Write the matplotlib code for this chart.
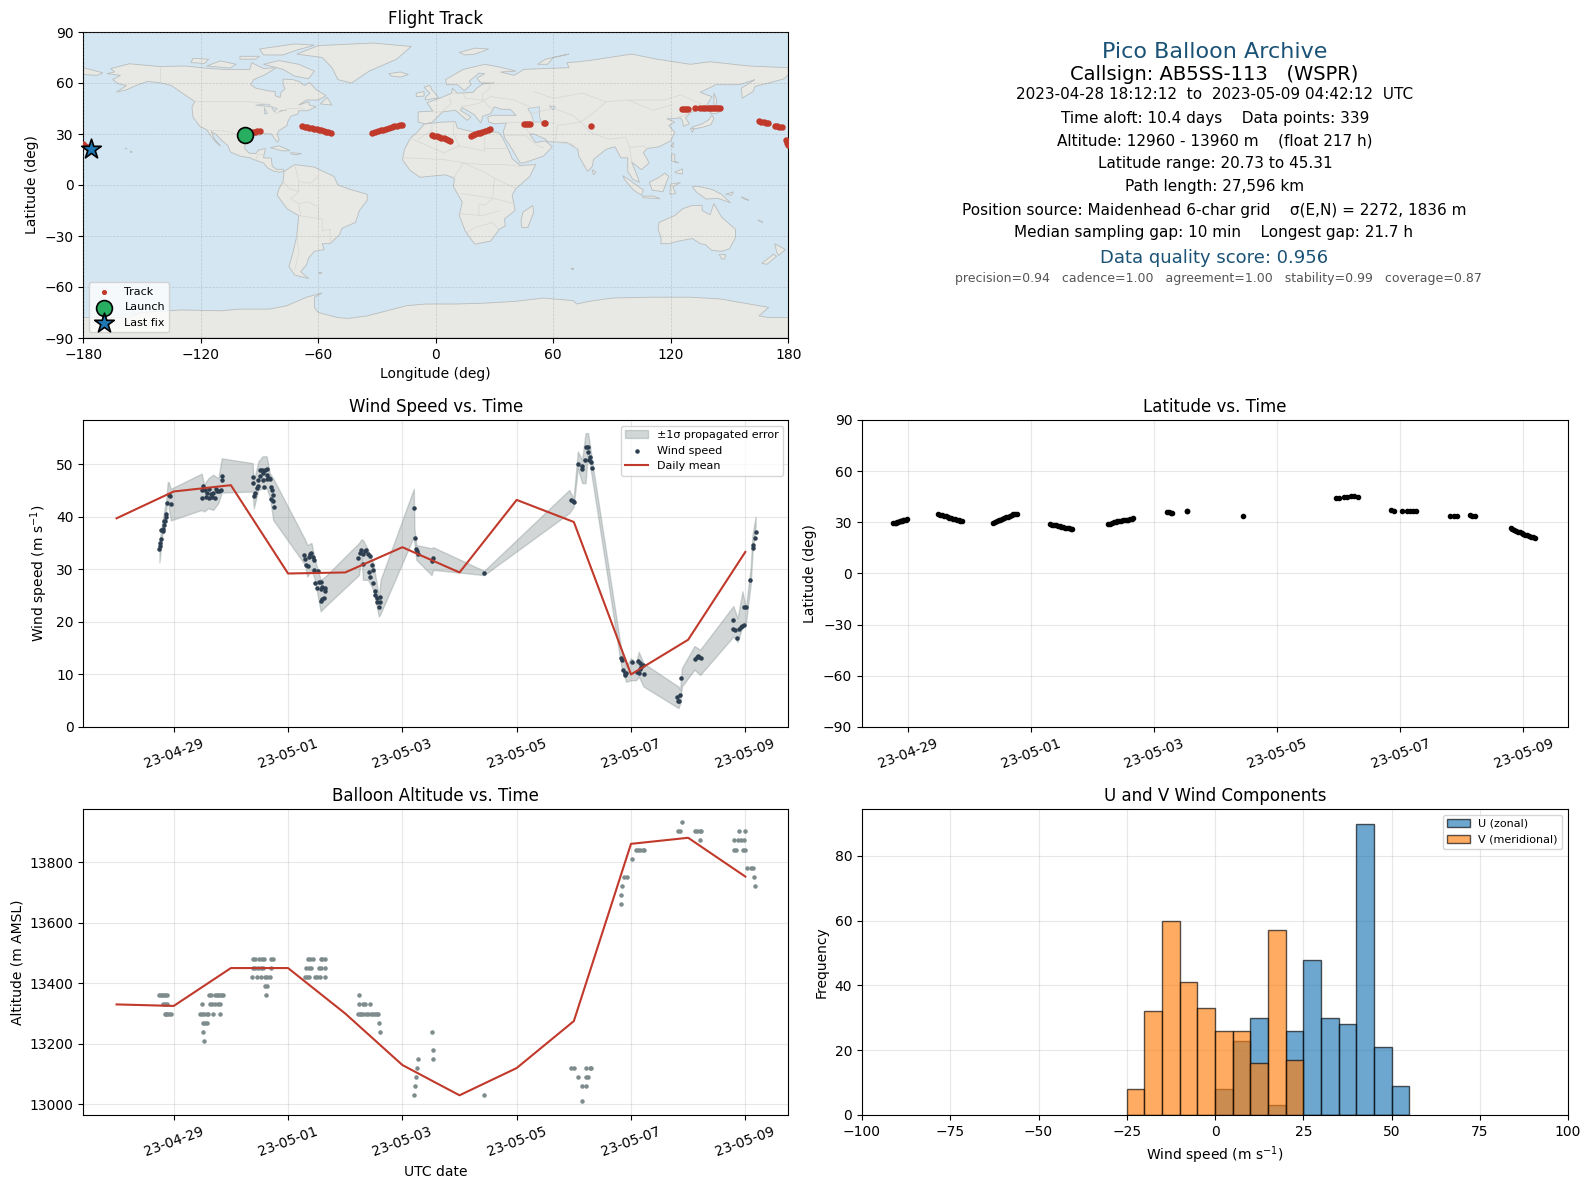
# Pico balloon summary page
from datetime import datetime

import numpy as np
import matplotlib
matplotlib.use('Agg')
import matplotlib.pyplot as plt
import matplotlib.dates as mdates
from matplotlib.patches import Polygon

# ---- map outlines (lon, lat) ----
north_america = [(-168,65.5),(-164,66.5),(-166,68.5),(-156.5,71.3),(-141,69.7),(-128,70),(-115,68.5),(-108,68),(-95,68),(-94,72),(-88,68.5),(-81.5,69),(-87,65),(-93,62),(-94.5,59),(-92,57),(-85,55.3),(-82,55),(-82,52.5),(-79.5,51.5),(-79,54.5),(-77,56.5),(-78,59),(-78,62.3),(-73,62),(-70,61),(-67,58.5),(-64.5,60.3),(-61,56),(-56,52.5),(-60,50),(-66,50),(-70,47),(-65,49),(-64.5,47),(-61,46),(-65.5,43.7),(-70,43.7),(-70.5,41.7),(-74,40.5),(-75.5,37.5),(-76,35),(-80,32),(-81,30),(-80,26.5),(-81,25.2),(-82.8,28),(-84,30),(-89,30.2),(-90,29),(-94,29.5),(-97.3,27.5),(-97.5,24),(-97.5,21.5),(-95.5,18.8),(-92,18.5),(-90.5,20.5),(-87,21.5),(-88,16),(-84,15.8),(-83.5,11),(-81,9),(-78,9.3),(-77.5,8),(-80,7.5),(-83,8.3),(-85.8,10),(-88,13),(-92,14.5),(-95,16),(-100,17),(-105,19.5),(-106,23),(-109,26),(-112.5,30),(-114.7,31.5),(-113,27),(-110,23),(-112,25),(-115,29),(-117,32.5),(-120.5,34.5),(-124,40),(-124.5,46),(-123,49),(-130,54.5),(-135,58.5),(-140,60),(-147,61),(-152,59),(-158,56),(-163,54.7),(-158,58.5),(-162,59.5),(-165,62),(-161,64.5)]
south_america = [(-77.5,8),(-72,12),(-62,10.5),(-52,5),(-50,0),(-44,-2.5),(-35,-5.5),(-35,-9),(-39,-15),(-41,-22),(-48,-25.5),(-49,-29),(-54,-34.5),(-58,-34.5),(-57,-38),(-62,-39),(-65,-43),(-66,-47),(-69,-51),(-65,-55),(-72,-53),(-75,-48),(-73,-40),(-71,-30),(-70,-18),(-76,-14),(-81,-6),(-80,-2),(-78,2)]
africa = [(-6,35.8),(3,37),(10,37.3),(11,33.5),(20,31),(25,31.5),(32,31),(34,28),(37,21),(39,15.5),(43,11.5),(51,12),(48,5),(41,-2),(39,-6),(40.5,-15),(35,-20),(35.5,-24),(32.5,-26),(28,-33),(20,-34.8),(18,-32),(15,-27),(12,-18),(13.5,-10),(9,-1),(9.5,4),(5,6),(-4,5),(-8,4.5),(-13,8.5),(-17,14.7),(-16,21),(-13,27.5),(-9.5,31)]
eurasia = [(-5.5,36),(-9,37),(-9,43),(-1.5,43.5),(-4.5,48.5),(2,51),(8,54),(8.5,57),(11,54),(19,54.5),(21,57),(24,59.5),(30,60),(23,60),(21,63),(25,65.5),(22,65.8),(17,61),(18,59),(14.5,55.5),(11,59),(5.5,59),(5,62),(14,68),(25,71),(32,69.5),(41,67),(33,66.5),(40,64.5),(45,68),(55,68.5),(68,69),(67,72),(73,72.5),(80,73.5),(100,77),(113,74),(130,71),(140,72.5),(160,70),(180,69),(180,65),(178,62.5),(170,60),(163,58),(162,55),(156.5,51),(156,57),(163,62),(155,59),(143,59),(135,54.5),(141,52),(138,46),(130,42.5),(127.5,39.5),(129.5,36),(126.5,34.5),(126,37.5),(125,39.5),(121,39),(118,39),(122,37),(119,35),(122,31),(120,26),(114,22.5),(108,21.5),(106,19),(109,13),(105,9),(100,13.5),(103,5),(104,1.5),(100.5,3.5),(98,8),(98,16),(94.5,16),(91.5,22.5),(87,21),(80.5,15),(80,11),(77.5,8),(73,17),(72.5,21),(67,25),(57,25.5),(56,27),(50,30),(48,30),(51,25),(56,26),(59.5,22.5),(55,17),(45,13),(43,13),(39,21),(35,28),(34.5,31.5),(36,36.5),(30,36),(27,37),(26.5,40),(29,41),(41,41),(38,44.5),(33.5,44.5),(30,46),(28,42),(24,40.5),(23,36.5),(19.5,41.5),(13.5,45.5),(12.5,44),(18,40),(16,38),(10,44),(3.5,43),(0,39),(-2,36.8)]
australia = [(114,-22),(122,-18),(126,-14),(131,-12),(136,-12),(136,-15),(140,-17.5),(142,-11),(146,-19),(153,-26),(153,-31),(150,-37.5),(146,-39),(141,-38.5),(137.5,-35),(135,-34.5),(131,-31.5),(124,-33),(119,-34.5),(115,-34.5),(115,-31),(113.5,-26)]
antarctica = [(-180,-78),(-158,-78),(-150,-75),(-130,-73.5),(-110,-74),(-100,-73),(-85,-73),(-76,-71),(-66,-66),(-58,-63.5),(-62,-66),(-62,-72),(-60,-75),(-50,-78),(-45,-78.5),(-35,-77),(-25,-74),(-15,-71),(-5,-70),(10,-70),(25,-69.5),(40,-68.5),(55,-66.5),(70,-68),(72,-70),(78,-68.5),(90,-66.5),(110,-66),(130,-66),(145,-67),(160,-70),(170,-72),(165,-77),(170,-78),(180,-78),(180,-90),(-180,-90)]
islands = [
    [(-71,77),(-60,82),(-32,83.5),(-12.5,81.5),(-20,74),(-34,67),(-43,60),(-50,62),(-53,69),(-58,75)],
    [(-80,73.2),(-70,71),(-62,67),(-65,62.5),(-72,64),(-78,68),(-88,71)],
    [(-90,80),(-72,83),(-62,82.3),(-72,79),(-78,76.5),(-88,76.5)],
    [(-117,70),(-105,68.8),(-102,71),(-110,73)],
    [(-125,72),(-118,71.5),(-116,74),(-124,74.5)],
    [(-100,74),(-92,74),(-90,75.7),(-100,75.7)],
    [(-59,47.7),(-53,47),(-55.5,51.5)],
    [(-84.5,22),(-80,23),(-74.5,20.2),(-78,20)],
    [(-74,19),(-68.5,18.5),(-71.5,17.8),(-74,18.3)],
    [(-156,20),(-155,19.5),(-155.5,19),(-156,19.5)],
    [(-158.5,21.7),(-157.7,21.4),(-158,21.2)],
    [(-180,69),(-175,67.5),(-170,66),(-173,64.5),(-180,65)],
    [(-5.5,50),(1.5,51.3),(0,53.5),(-2,56),(-3,58.6),(-6,57.5),(-3,54),(-5,52)],
    [(-10,52),(-6,52.3),(-6,55),(-10,54)],
    [(-24,65.5),(-18,66.5),(-14,65),(-18,63.5),(-22.5,64)],
    [(12,78),(20,80.5),(27,80),(20,77),(15,76.5)],
    [(52,71),(56,74),(68,77),(60,75),(57,71)],
    [(130.8,34),(136,36),(139.5,38.5),(141,41.3),(142,39),(140.5,35.5),(136.5,34),(132,33)],
    [(140,42),(142,45.4),(145.5,43.3),(143,42)],
    [(130,33.5),(131.8,33),(131,31)],
    [(142,54),(143.5,50),(143,46),(142,47)],
    [(120,23),(121.5,25),(121,22)],
    [(79.8,9),(81.8,7.5),(80.5,6)],
    [(49.5,-12),(50,-16),(47,-25),(44,-25),(43.5,-21),(44.5,-16)],
    [(95.5,5.5),(100,2),(106,-3),(105,-6),(101,-3),(96.5,3)],
    [(105.5,-6.5),(111,-6.5),(114.5,-8),(106,-7.5)],
    [(109,1.5),(114,4.5),(117,7),(119,5),(117.5,1),(116,-4),(110.5,-3)],
    [(119.5,-5.5),(120,0.5),(125,1.5),(121,-1),(122.5,-5)],
    [(120.5,18.5),(122,18),(122,14),(124,13),(120.5,14)],
    [(122,7.5),(126,9.5),(126,6.5),(123,7)],
    [(131,-1),(134,-0.8),(141,-2.6),(146,-5.5),(150.5,-10.5),(144,-7.8),(138,-8.3),(133,-4)],
    [(148,-5.5),(152,-4),(151,-6)],
    [(156,-7),(160,-9),(158,-8.5)],
    [(144.7,-41),(148,-41),(147.5,-43.5),(146,-43.5)],
    [(173,-34.5),(178.5,-38),(175,-41.5),(174,-39)],
    [(172.5,-40.7),(174,-42),(169,-46.7),(166.5,-46)],
    [(69,-49),(70.5,-49),(70,-50)],
    [(165,-21),(167,-22),(164.5,-20.5)],
    [(-60,-51.5),(-58,-51.5),(-59,-52.3)],
]
inland_water = [
    [(47,45),(53,46),(53,40),(54,37),(50,37),(49,41)],
    [(-92,47),(-85,47.5),(-84.5,46),(-88,46.5)],
    [(-87.5,45.5),(-86,42),(-87.5,41.8)],
    [(-84,46),(-81,45),(-82.5,43)],
    [(-80,43.3),(-76.5,44),(-79,43.6)],
    [(58,46.5),(61,46),(60,44)],
]
borders = [
    [(-123,49),(-95,49),(-88,48),(-83,46),(-82,42),(-75,45),(-67,45)],
    [(-141,69.7),(-141,60)],
    [(-117,32.5),(-106,31.5),(-101,29.5),(-97.3,26)],
    [(-92,14.5),(-91,18),(-88,18)],
    [(-72,12),(-70,2),(-70,-4),(-74,-8),(-70,-11),(-69,-18)],
    [(-60,5),(-64,1),(-70,2)],
    [(-70,-18),(-58,-20),(-58,-27),(-54,-26),(-54,-34)],
    [(-71,-30),(-70,-40),(-72,-50)],
    [(-60,-20),(-60,-13),(-65,-10),(-70,-11)],
    [(-78,2),(-75,-2),(-70,-4)],
    [(-9,27),(-2,32),(-2,35)],
    [(-13,27.5),(4,19),(12,23),(25,20),(25,31)],
    [(9,37),(9,30),(12,23)],
    [(25,22),(37,22)],
    [(-16,16),(4,15),(14,13),(24,12),(35,12),(43,11)],
    [(9,4),(14,13)],
    [(14,13),(24,8),(30,4),(41,-2)],
    [(13,-5),(30,-8),(40,-11)],
    [(12,-17),(24,-18),(33,-15)],
    [(16,-28),(20,-25),(29,-22),(32,-26)],
    [(30,4),(29,-8),(25,-12),(22,-11),(22,-18)],
    [(-2,43),(3,43),(8,48),(7,51)],
    [(8,54),(14,54),(15,51),(24,50),(28,45),(30,46)],
    [(24,50),(24,54),(27,56),(28,60)],
    [(13,46),(22,48),(28,52),(40,50),(48,46)],
    [(48,42),(60,45),(70,41),(74,37),(62,35),(61,25)],
    [(50,37),(61,36.5)],
    [(50,55),(60,51),(75,54),(87,49),(98,50),(117,50),(125,53),(135,48),(131,43)],
    [(87,49),(80,42),(74,37)],
    [(98,50),(111,44),(120,47)],
    [(74,37),(79,31),(88,27),(97,28),(99,22),(106,23),(108,21.5)],
    [(61,25),(70,24),(72,21)],
    [(99,22),(100,14)],
    [(36,36.5),(44,37),(48,30)],
    [(35,29),(46,29),(52,23),(55,22)],
    [(124,40),(130,42.5)],
]

# ---- track (map) ----
track_lon = [-93.6,-92.5,-91.2,-89.9,-68.3,-67,-65.8,-64.5,-63.2,-62,-60.8,-59.6,-58.4,-57.2,-56,-54.8,-53.3,
             -32.4,-31,-29.6,-28.2,-26.8,-25.4,-24,-22.6,-21.2,-19.8,-18.5,-17.2,-2,-0.8,0.4,1.6,2.8,4,5.2,6.3,7.3,
             17.9,19,20.2,21.4,22.6,23.8,25,26.4,27.8,45.1,46,47,48.2,55,55.9,79,
             125.5,126.5,127.6,128.6,132.2,135,136.2,137.6,138.8,140,141,142,143,144,145,
             165.2,166.3,167.4,168.5,169.5,173.3,174.2,175.5,176.8,178.9,179.5,180,-180,-179,-178,-176.3]
track_lat = [31.2,31.4,31.6,31.8,34.7,34.4,34.1,33.8,33.4,33.1,32.8,32.4,32.1,31.7,31.4,31,30.6,
             30.6,31.1,31.6,32.1,32.6,33.1,33.6,34.1,34.5,34.9,35.1,35.3,29.4,29.0,28.6,28.2,27.8,27.4,27,26.5,26.1,
             28.8,29.3,29.8,30.3,30.8,31.3,31.8,32.4,32.9,35.9,35.9,35.8,35.7,36.4,36.4,34.7,
             44.6,44.6,44.6,44.6,45.2,45.2,45.2,45.2,45.2,45.2,45.2,45.2,45.2,45.2,45.2,
             37.4,37.2,37,36.6,36.3,34.7,34.6,34.3,34.1,26.3,25,23.5,23.9,23.2,22.6,21.0]
launch_lon, launch_lat = -97.3, 29.4
last_lon, last_lat = -176.3, 20.9

# ---- wind speed, t in days since 2023-04-28 00:00 UTC ----
wind_t = [.75,.755,.767,.785,.78,.81,.82,.825,.83,.855,.86,.87,.89,.91,.93,.95,
          1.49,1.50,1.52,1.54,1.565,1.59,1.61,1.62,1.645,1.67,1.69,1.72,1.74,1.76,1.80,1.83,1.84,1.85,
          2.38,2.385,2.40,2.43,2.45,2.48,2.51,2.54,2.555,2.58,2.60,2.625,2.64,2.66,2.68,2.695,2.72,2.74,2.71,2.735,2.75,2.51,2.57,2.48,2.625,
          3.28,3.30,3.32,3.35,3.36,3.38,3.41,3.43,3.45,3.46,3.52,3.475,3.50,3.54,3.585,3.60,3.57,3.64,3.655,3.63,3.57,3.60,
          4.23,4.26,4.285,4.31,4.34,4.37,4.40,4.43,4.31,4.47,4.48,4.42,4.435,4.49,4.52,4.53,4.55,4.605,4.565,4.605,4.59,
          5.205,5.215,5.245,5.26,5.275,5.51,5.54,6.43,7.95,7.98,8.0,
          8.07,8.145,8.15,8.2,8.22,8.25,8.24,8.28,8.30,8.31,8.26,
          8.83,8.85,8.86,8.89,8.89,8.92,9.02,9.12,9.15,9.105,9.14,9.175,9.21,9.23,9.16,
          9.8,9.815,9.84,9.865,9.88,10.12,10.15,10.17,10.195,10.225,
          10.79,10.79,10.825,10.86,10.89,10.92,10.95,10.97,10.98,11.02,11.09,11.13,11.14,11.165,11.18]
wind_v = [33.8,34.5,35,35.7,37.4,37.2,37.6,38.5,39.1,39.1,39.9,40.5,42.7,44.1,43.9,42.4,
          43.5,45.1,45.9,45,43.7,44.6,45.2,43.5,44.4,43.7,44.5,43.5,45.2,44.9,44.8,45.1,46.9,47.8,
          47.5,46.5,44,44.5,45.4,46.9,47.8,48.9,47,45.6,48.9,49,48,47.3,47.1,45.6,45.1,44.2,43.3,42.9,41.9,48.9,48.3,45.9,47.2,
          32.7,32,30.8,30.7,32.4,32.9,33.1,32.4,31.8,29.8,29.6,27.3,26.5,27.5,27.5,26.7,26.3,26.4,25.8,24.5,23.9,24.4,
          32.1,33.1,33.7,32.9,33.4,33.7,32.9,32.6,31,30.8,29.9,29.4,28.5,27.3,25.8,25.1,24.5,24.8,23.7,23.7,22.8,
          41.6,35.9,33.8,33.4,33,31.5,32.1,29.25,43.2,43,42.8,
          50.1,49.7,49,50.7,53.2,53.2,52.4,51.3,50.5,49.2,50.8,
          13.1,12.8,10.9,9.9,10.3,10.2,12.4,12.6,12.1,10.5,10.2,11.5,11.8,10,11,
          5.65,4.95,4.95,6,9.4,12.9,13.3,13.5,13.3,13.1,
          20.4,18.6,18.5,16.9,18.6,19.1,19.2,19.4,22.8,22.8,27.9,34,34.6,35.9,37]
band_t = [.75,.80,.87,.895,.91,.95,1.49,1.53,1.605,1.69,1.78,1.84,2.38,2.40,2.48,2.555,2.625,2.68,2.74,
          3.30,3.335,3.41,3.47,3.57,3.65,4.24,4.285,4.31,4.40,4.49,4.59,4.62,5.2,5.21,5.245,5.51,5.54,6.43,
          7.92,7.995,8.07,8.145,8.205,8.25,8.30,8.36,8.83,8.915,9.0,9.09,9.135,9.22,9.83,9.86,9.89,10.11,10.21,
          10.79,10.865,10.95,11.01,11.095,11.125,11.18]
band_lo = [31.3,36.5,41.3,44.5,41.8,39.3,41.3,41,41.6,41.3,42.6,44.6,44.8,41.6,45.1,45.4,45.4,43.8,39.4,
           30.8,28.6,29.9,28,22,22.9,28.9,32.4,28,28,26.1,21,21.6,36.2,35,31.8,28.9,29.9,28.9,
           40.7,41.9,49.2,46.4,46.4,52.7,48.6,44.5,11.5,8.6,8.9,8.9,9.6,7.7,3.6,4.5,7.7,10.9,9.9,
           17.2,16.2,19.1,19.7,27.3,33.1,38.1]
band_hi = [35,39.1,43.2,46.6,46.6,45.3,48.2,46.1,47.3,48,47.3,51.1,50.2,46.7,50.5,51.5,51.5,48.3,47.3,
           35.6,34.6,35,31.8,28,28.6,35,35.7,35.6,33.7,31.2,24.8,28,45.3,37.8,34.6,34,34.2,29.7,
           45.1,43.5,52.4,50.8,55.9,55.9,52.1,47.7,14.7,11.5,13.1,12.1,14.3,12.1,7.7,7,11.2,15.4,14.7,
           23,20.7,25.8,22.6,30.5,36.5,40]
daily_t = [0,1,2,3,4,5,6,7,8,9,10,11]
daily_wind = [39.7,44.8,46,29.2,29.4,34.2,29.4,43.2,39,10,16.6,33.3]
daily_alt = [13330,13325,13450,13450,13300,13130,13030,13120,13275,13860,13880,13752]

# ---- latitude vs time ----
lat_t = [.76,.78,.80,.82,.84,.86,.88,.90,.92,.94,.96,.98,
         1.49,1.52,1.55,1.58,1.61,1.64,1.67,1.70,1.73,1.76,1.79,1.82,1.85,1.88,
         2.38,2.41,2.44,2.47,2.50,2.53,2.56,2.59,2.62,2.65,2.68,2.71,2.74,2.77,
         3.31,3.34,3.37,3.40,3.43,3.46,3.49,3.52,3.55,3.58,3.61,3.64,3.67,
         4.25,4.28,4.31,4.34,4.37,4.40,4.43,4.46,4.49,4.52,4.55,4.58,4.61,4.64,4.66,
         5.21,5.24,5.27,5.29,5.53,5.54,6.45,
         7.96,8.0,8.09,8.14,8.2,8.25,8.31,
         8.85,8.9,9.02,9.10,9.15,9.21,9.25,
         9.81,9.87,9.92,10.13,10.17,10.21,
         10.79,10.82,10.85,10.88,10.91,10.94,10.97,11.0,11.03,11.06,11.09,11.12,11.15,11.19]
lat_deg = [29.4,29.7,29.9,30.2,30.4,30.6,30.8,31,31.2,31.4,31.6,31.8,
           34.7,34.4,34.1,33.8,33.5,33.1,32.8,32.5,32.2,31.8,31.5,31.1,30.8,30.5,
           29.8,30.2,30.7,31.1,31.6,32,32.5,32.9,33.3,33.8,34.2,34.6,34.9,35.1,
           28.9,28.7,28.4,28.2,27.9,27.7,27.4,27.1,26.9,26.6,26.4,26.1,25.8,
           28.8,29.3,29.7,30,30.2,30.5,30.7,30.9,31.1,31.3,31.5,31.6,31.8,32,32.4,
           36,35.8,35.6,35.3,36.4,36.6,34,
           44,44.4,44.8,45.1,45.4,45.3,45,
           37,36.8,36.5,36.6,36.6,36.6,36.5,
           34,34,34,34.2,34,33.5,
           26.6,26.1,25.6,25.1,24.6,24.1,23.7,23.2,22.8,22.4,22,21.6,21.2,20.7]

# ---- altitude vs time (reported in steps) ----
alt_t = [.75,.78,.80,.825,.85,.88,1.62,1.65,1.72,1.75,1.78,1.81,1.84,1.86,2.62,4.24,
         .82,.85,.89,1.50,1.635,1.675,1.72,1.77,1.81,4.24,4.31,4.355,4.43,
         .84,.87,.89,.92,.95,1.46,1.50,1.535,1.575,1.605,1.68,1.815,4.225,4.255,4.285,4.31,4.37,4.40,4.46,4.49,4.52,4.55,4.58,
         1.52,1.55,1.59,4.59,1.52,4.61,5.51,1.535,
         2.39,2.42,2.50,2.55,2.585,2.70,2.74,3.35,3.38,3.43,3.57,3.60,3.64,
         2.39,2.42,2.48,2.52,2.57,2.70,3.32,3.365,3.41,3.54,3.585,3.64,
         2.37,2.45,2.525,2.60,2.64,2.68,3.295,3.335,3.37,3.47,3.51,3.56,3.65,
         2.60,2.635,5.275,5.25,5.23,5.215,5.21,5.54,5.54,6.43,
         7.95,7.995,8.07,8.145,8.21,8.15,8.215,8.275,8.30,8.215,8.25,
         8.82,8.82,8.85,8.885,8.93,9.01,9.09,9.12,9.16,9.21,9.235,
         9.89,9.82,9.86,10.12,10.16,10.2,10.23,10.2,
         10.895,10.99,10.81,10.87,10.925,10.97,10.81,10.84,10.955,10.995,11.025,11.10,11.13,11.145,11.175]
alt_m = [13360]*16 + [13330]*13 + [13300]*23 + [13270]*4 + [13240]*3 + [13210] + \
        [13480]*13 + [13450]*12 + [13420]*13 + [13390]*2 + \
        [13150,13120,13090,13060,13030,13180,13150,13030] + \
        [13120,13120,13090,13060,13060,13010,13120,13120,13120,13090,13090] + \
        [13660,13690,13720,13750,13750,13810,13840,13840,13840,13840,13840] + \
        [13932,13902,13902,13902,13902,13902,13902,13872] + \
        [13902,13902,13872,13872,13872,13872,13840,13840,13840,13840,13780,13780,13780,13750,13720]

# ---- histogram counts, 5 m/s bins ----
bin_left = [-25,-20,-15,-10,-5,0,5,10,15,20,25,30,35,40,45,50]
u_counts = [0,0,0,0,0,8,23,30,3,26,48,30,28,90,21,9]
v_counts = [8,32,60,41,33,26,26,16,57,17,0,0,0,0,0,0]

# ---- header text ----
info_lines = ['2023-04-28 18:12:12  to  2023-05-09 04:42:12  UTC',
              'Time aloft: 10.4 days    Data points: 339',
              'Altitude: 12960 - 13960 m    (float 217 h)',
              'Latitude range: 20.73 to 45.31',
              'Path length: 27,596 km',
              'Position source: Maidenhead 6-char grid    σ(E,N) = 2272, 1836 m',
              'Median sampling gap: 10 min    Longest gap: 21.7 h']
info_y = [94.5,118,141,163.5,187,210,233]
info_x = [1215,1215,1215,1215,1215,1214,1214]

date_ticks = [datetime(2023,4,29),datetime(2023,5,1),datetime(2023,5,3),datetime(2023,5,5),datetime(2023,5,7),datetime(2023,5,9)]
base = mdates.date2num(datetime(2023,4,28))

RED = '#c0392b'
DARK = '#2c3e50'
GREY = '#7f8c8d'
NAVY = '#1a5276'

W, H = 1589, 1189
fig = plt.figure(figsize=(W/100, H/100), dpi=100)


def place(left, top, right, bottom):
    return fig.add_axes([left/W, 1-bottom/H, (right-left)/W, (bottom-top)/H])


def date_axis(ax):
    ax.set_xticks(mdates.date2num(date_ticks))
    ax.xaxis.set_major_formatter(mdates.DateFormatter('%y-%m-%d'))
    ax.tick_params(axis='x', labelrotation=20)
    ax.grid(True, alpha=0.3)
    ax.set_axisbelow(True)


# map
ax = place(83.3, 32, 788.3, 338)
ax.set_facecolor('#d4e6f1')
land = [north_america, south_america, africa, eurasia, australia, antarctica] + islands
for poly in land:
    ax.add_patch(Polygon(poly, closed=True, fc='#e8e8e4', ec='#b9bdbd', lw=0.6, zorder=1))
for poly in inland_water:
    ax.add_patch(Polygon(poly, closed=True, fc='#d4e6f1', ec='#b9bdbd', lw=0.5, zorder=1.1))
for line in borders:
    ax.plot([p[0] for p in line], [p[1] for p in line], color='#d6d6d2', lw=0.5, zorder=1.2)
ax.scatter(track_lon, track_lat, s=13, color=RED, zorder=4, label='Track')
ax.scatter([launch_lon], [launch_lat], s=130, color='#27ae60', edgecolor='black', lw=1.2, zorder=5, label='Launch')
ax.scatter([last_lon], [last_lat], s=220, marker='*', color='#1f77b4', edgecolor='black', lw=1.2, zorder=5, label='Last fix', clip_on=False)
ax.set_xlim(-180, 180)
ax.set_ylim(-90, 90)
ax.set_xticks(np.arange(-180, 181, 60))
ax.set_yticks(np.arange(-90, 91, 30))
ax.grid(True, linestyle='--', lw=0.5, color='gray', alpha=0.3, zorder=2)
ax.set_axisbelow(False)
ax.set_xlabel('Longitude (deg)')
ax.set_ylabel('Latitude (deg)')
ax.set_title('Flight Track', fontsize=12)
leg = ax.legend(loc='lower left', fontsize=8)
leg.legend_handles[0].set_sizes([7])

# header block
ax = place(862, 31, 1568, 338)
ax.axis('off')
ax.set_xlim(862, 1568)
ax.set_ylim(338, 31)
ax.text(1215, 52, 'Pico Balloon Archive', fontsize=16, color=NAVY, ha='center', va='center')
ax.text(1214, 74, 'Callsign: AB5SS-113   (WSPR)', fontsize=14, ha='center', va='center')
for txt, xx, yy in zip(info_lines, info_x, info_y):
    ax.text(xx, yy, txt, fontsize=11, ha='center', va='center')
ax.text(1214, 258, 'Data quality score: 0.956', fontsize=13, color=NAVY, ha='center', va='center')
ax.text(1218, 278.5, 'precision=0.94   cadence=1.00   agreement=1.00   stability=0.99   coverage=0.87',
        fontsize=9, color='#555555', ha='center', va='center')

# wind speed
ax = place(83.3, 420, 788.3, 727)
ax.fill_between(base+np.array(band_t), band_lo, band_hi, color=GREY, alpha=0.35, label='±1σ propagated error')
ax.scatter(base+np.array(wind_t), wind_v, s=5, color=DARK, zorder=3, label='Wind speed')
ax.plot(base+np.array(daily_t), daily_wind, color=RED, lw=1.5, zorder=4, label='Daily mean')
ax.set_xlim(base-0.582, base+11.752)
ax.set_ylim(0, 58.4)
ax.set_yticks(np.arange(0, 51, 10))
date_axis(ax)
ax.set_ylabel('Wind speed (m s$^{-1}$)')
ax.set_title('Wind Speed vs. Time', fontsize=12)
ax.legend(loc='upper right', fontsize=8)

# latitude
ax = place(862, 420, 1568, 727)
ax.scatter(base+np.array(lat_t), lat_deg, s=9, color='black', zorder=3)
ax.set_xlim(base+0.25, base+11.724)
ax.set_ylim(-90, 90)
ax.set_yticks(np.arange(-90, 91, 30))
date_axis(ax)
ax.set_ylabel('Latitude (deg)')
ax.set_title('Latitude vs. Time', fontsize=12)

# altitude
ax = place(83.3, 809, 788.3, 1115)
ax.scatter(base+np.array(alt_t), alt_m, s=5, color=GREY, zorder=3)
ax.plot(base+np.array(daily_t), daily_alt, color=RED, lw=1.5, zorder=4)
ax.set_xlim(base-0.582, base+11.752)
ax.set_ylim(12965, 13975)
ax.set_yticks([13000, 13200, 13400, 13600, 13800])
date_axis(ax)
ax.set_xlabel('UTC date')
ax.set_ylabel('Altitude (m AMSL)')
ax.set_title('Balloon Altitude vs. Time', fontsize=12)

# histogram
ax = place(862, 809, 1568, 1115)
ax.bar(bin_left, u_counts, width=5, align='edge', color='#1f77b4', edgecolor='black', alpha=0.65, label='U (zonal)')
ax.bar(bin_left, v_counts, width=5, align='edge', color='#ff7f0e', edgecolor='black', alpha=0.65, label='V (meridional)')
ax.set_xlim(-100, 100)
ax.set_ylim(0, 94.5)
ax.set_xticks(np.arange(-100, 101, 25))
ax.set_yticks([0, 20, 40, 60, 80])
ax.grid(True, alpha=0.3)
ax.set_axisbelow(True)
ax.set_xlabel('Wind speed (m s$^{-1}$)')
ax.set_ylabel('Frequency')
ax.set_title('U and V Wind Components', fontsize=12)
ax.legend(loc='upper right', fontsize=8)

fig.savefig('out.png', dpi=100)
